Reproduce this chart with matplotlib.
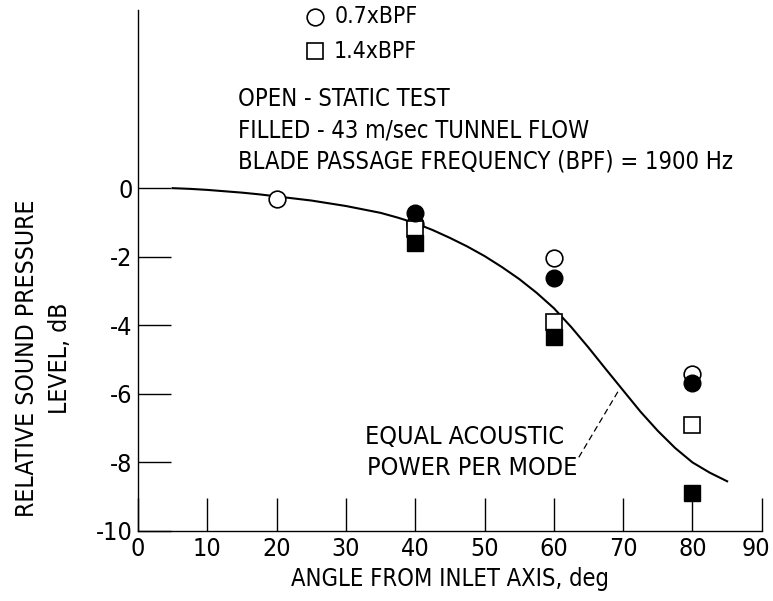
import matplotlib
matplotlib.use('Agg')
import matplotlib.pyplot as plt

plt.rcParams['font.family'] = ['DejaVu Sans']
plt.rcParams['font.stretch'] = 'condensed'
plt.rcParams['axes.unicode_minus'] = False

# measured points (angle deg, relative SPL dB)
angles_open_07 = [20, 40, 60, 80]
spl_open_07 = [-0.32, -1.05, -2.05, -5.43]
angles_fill_07 = [40, 60, 80]
spl_fill_07 = [-0.72, -2.63, -5.67]
angles_open_14 = [40, 60, 80]
spl_open_14 = [-1.2, -3.9, -6.9]
angles_fill_14 = [40, 60, 80]
spl_fill_14 = [-1.6, -4.35, -8.88]

# equal acoustic power per mode curve
curve_angle = [5, 7.5, 10, 12.5, 15, 17.5, 20, 22.5, 25, 27.5, 30, 32.5, 35, 37.5, 40,
               42.5, 45, 47.5, 50, 52.5, 55, 57.5, 60, 62.5, 65, 67.5, 70, 72.5, 75,
               77.5, 80, 82.5, 85]
curve_spl = [0.0, -0.02, -0.05, -0.09, -0.13, -0.18, -0.24, -0.3, -0.36, -0.44, -0.52,
             -0.62, -0.72, -0.86, -1.02, -1.22, -1.45, -1.7, -1.98, -2.3, -2.65, -3.05,
             -3.5, -4.05, -4.65, -5.28, -5.9, -6.52, -7.08, -7.58, -8.0, -8.3, -8.55]

x_ticks = [0, 10, 20, 30, 40, 50, 60, 70, 80, 90]
y_ticks = [0, -2, -4, -6, -8, -10]

fig = plt.figure(figsize=(7.73, 6.01), dpi=100)
ax = fig.add_axes([0.1785, 0.1165, 0.807, 0.867])

ax.plot(curve_angle, curve_spl, color='black', lw=1.5, zorder=2)

ms = 12
ax.plot(angles_open_07, spl_open_07, 'o', ms=ms, mfc='white', mec='black', mew=1.2, zorder=3)
ax.plot(angles_open_14, spl_open_14, 's', ms=ms - 1, mfc='white', mec='black', mew=1.2, zorder=3)
ax.plot(angles_fill_07, spl_fill_07, 'o', ms=ms, mfc='black', mec='black', zorder=4)
ax.plot(angles_fill_14, spl_fill_14, 's', ms=ms - 1, mfc='black', mec='black', zorder=4)

ax.set_xlim(0, 90)
ax.set_ylim(-10, 5.2)
ax.set_xticks(x_ticks)
# last label drawn by hand so it stays inside the picture
ax.set_xticklabels([str(v) for v in x_ticks[:-1]] + [''])
ax.set_yticks(y_ticks)
ax.spines['top'].set_visible(False)
ax.spines['right'].set_visible(False)
for s in ['left', 'bottom']:
    ax.spines[s].set_linewidth(1.0)
ax.tick_params(direction='in', length=24, width=1.0, labelsize=18, pad=4)
ax.annotate(str(x_ticks[-1]), xy=(89.2, 0), xycoords=('data', 'axes fraction'),
            xytext=(0, -4), textcoords='offset points', ha='center', va='top',
            fontsize=18, annotation_clip=False)

ax.set_xlabel('ANGLE FROM INLET AXIS, deg', fontsize=17, labelpad=5)
ax.set_ylabel('RELATIVE SOUND PRESSURE\nLEVEL, dB', fontsize=17.8, labelpad=17,
              linespacing=1.45, y=0.332)

# legend
ax.plot([25.5], [5.0], 'o', ms=ms, mfc='white', mec='black', mew=1.2, clip_on=False)
ax.plot([25.5], [4.0], 's', ms=ms - 1, mfc='white', mec='black', mew=1.2, clip_on=False)
ax.text(28.3, 5.0, '0.7xBPF', fontsize=16.5, va='center')
ax.text(28.3, 4.0, '1.4xBPF', fontsize=16.5, va='center')

ax.text(14.5, 2.6, 'OPEN - STATIC TEST', fontsize=17, va='center')
ax.text(14.5, 1.67, 'FILLED - 43 m/sec TUNNEL FLOW', fontsize=17, va='center')
ax.text(14.5, 0.77, 'BLADE PASSAGE FREQUENCY (BPF) = 1900 Hz', fontsize=17, va='center')

ax.text(32.8, -7.27, 'EQUAL ACOUSTIC', fontsize=18, va='center')
ax.text(33.1, -8.15, 'POWER PER MODE', fontsize=18, va='center')
ax.plot([63.6, 69.5], [-7.85, -5.85], color='black', lw=0.9, dashes=(5, 3))

fig.savefig('out.png', dpi=100)
